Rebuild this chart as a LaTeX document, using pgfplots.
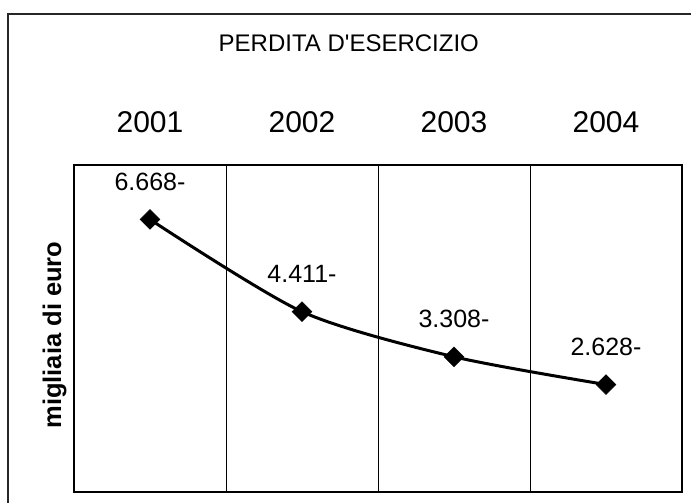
\documentclass[border=0pt]{standalone}
\usepackage{pgfplots}
\pgfplotsset{compat=1.18}
\usepackage{fontspec}
\setmainfont{Liberation Sans}
\newfontfamily\plainfont{Liberation Sans}[Ligatures=TeXOff]
\begin{document}
\begin{tikzpicture}
\useasboundingbox (-74bp,-11bp) rectangle (617bp,492bp);
\draw[line width=1.3bp, black!85] (-66bp,-11bp) -- (-66bp,478bp) -- (617bp,478bp);
\begin{axis}[
  scale only axis,
  width=608bp, height=327bp,
  xmin=-0.5, xmax=3.5, ymin=0, ymax=8000,
  ytick=\empty,
  xtick={0,1,2,3},
  xticklabels={2001,2002,2003,2004},
  xticklabel pos=upper,
  major tick length=0pt,
  minor tick length=0pt,
  minor xtick={0.5,1.5,2.5},
  xminorgrids=true,
  minor grid style={black, line width=0.9bp},
  axis line style={black, line width=1.3bp},
  x tick label style={font=\fontsize{30bp}{34bp}\selectfont, inner sep=0pt, anchor=base, yshift=32bp},
  ylabel={\textbf{migliaia di euro}},
  ylabel style={font=\fontsize{25.5bp}{29bp}\selectfont, at={(axis description cs:-0.012,0.48)}, anchor=south, inner sep=0pt, rotate=0},
  title={\plainfont PERDITA D'ESERCIZIO},
  title style={font=\fontsize{24bp}{28bp}\selectfont, at={(axis description cs:0.452,1.33)}, anchor=base, inner sep=0pt},
  clip=false,
]
\addplot[black, line width=3bp, smooth, tension=0.45, mark=square*, mark size=7bp,
  mark options={rotate=45, fill=black, line width=0.5bp},
  point meta=explicit symbolic, nodes near coords,
  every node near coord/.append style={font=\fontsize{25bp}{29bp}\selectfont, anchor=base, inner sep=0pt, yshift=29bp, black}]
coordinates {
  (0,6668) [6.668-]
  (1,4411) [4.411-]
  (2,3308) [3.308-]
  (3,2628) [2.628-]
};
\end{axis}
\end{tikzpicture}
\end{document}
